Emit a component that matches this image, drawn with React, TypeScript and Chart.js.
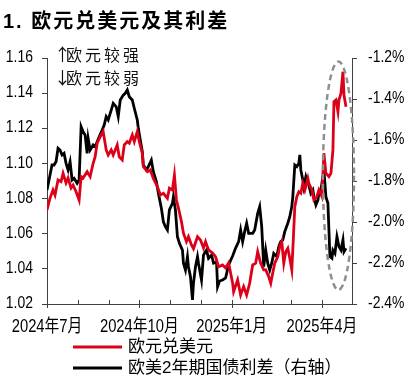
import React, { useEffect, useRef } from 'react';
import { Chart, registerables } from 'chart.js';

Chart.register(...registerables);

// ---------- text ----------
const titleText = '1. 欧元兑美元及其利差';
const noteUp = '欧元较强';
const noteDown = '欧元较弱';
const eurLabel = '欧元兑美元';
const spreadLabel = '欧美2年期国债利差（右轴）';

// ---------- axes ----------
// x values are days since 2024-07-01
const tickDays = [0, 31, 62, 92, 123, 153, 184, 215, 243, 274, 304];
const tickLabels = ['2024年7月', '', '', '2024年10月', '', '', '2025年1月', '', '', '2025年4月', ''];
const leftTicks = [1.02, 1.04, 1.06, 1.08, 1.1, 1.12, 1.14, 1.16];
const rightTicks = [-2.4, -2.2, -2.0, -1.8, -1.6, -1.4, -1.2];

// ---------- EUR/USD (left axis) ----------
const eurDays = [0, 3, 6, 8, 11, 14, 16, 19, 21, 24, 26, 29, 32, 34, 36, 40, 43, 46, 48, 50, 53, 56, 59, 61, 64, 66, 70, 72, 75, 77, 80, 82, 85, 87, 90, 92, 95, 96, 100, 103, 106, 110, 113, 116, 120, 122, 125, 127, 129, 131, 134, 136, 139, 141, 144, 146, 150, 153, 156, 158, 161, 165, 168, 171, 175, 178, 181, 185, 186, 190, 193, 196, 199, 202, 205, 208, 210, 213, 216, 218, 221, 223, 225, 227, 230, 232, 234, 236, 238, 240, 242, 244, 245, 247, 249, 251, 253, 255, 257, 260, 261, 264, 266, 269, 271, 274, 276, 278, 281, 283, 285, 286, 288, 290, 291, 293, 295, 296, 298];
const eurUsd = [1.0735, 1.0803, 1.0849, 1.082, 1.0906, 1.0896, 1.0944, 1.0889, 1.0917, 1.086, 1.0877, 1.0839, 1.0792, 1.0925, 1.0917, 1.0953, 1.0925, 1.1001, 1.1038, 1.1115, 1.1152, 1.1181, 1.1077, 1.1048, 1.1077, 1.1048, 1.1105, 1.1038, 1.102, 1.1105, 1.1124, 1.1115, 1.1162, 1.1124, 1.1181, 1.1124, 1.1058, 1.0982, 1.0953, 1.0963, 1.0915, 1.0868, 1.082, 1.083, 1.0802, 1.0859, 1.0849, 1.0934, 1.0792, 1.0746, 1.0669, 1.0603, 1.0555, 1.0583, 1.0536, 1.0515, 1.0583, 1.0564, 1.0519, 1.0555, 1.0508, 1.049, 1.0469, 1.0412, 1.0422, 1.0405, 1.0434, 1.032, 1.027, 1.0337, 1.0251, 1.0299, 1.0251, 1.0318, 1.0422, 1.0432, 1.0498, 1.0432, 1.0394, 1.0394, 1.0356, 1.0318, 1.0377, 1.0432, 1.0469, 1.0526, 1.0555, 1.0432, 1.0498, 1.0517, 1.046, 1.0394, 1.0508, 1.0754, 1.0811, 1.0839, 1.083, 1.0887, 1.0849, 1.0915, 1.0887, 1.0849, 1.0792, 1.0811, 1.0849, 1.0811, 1.1058, 1.0944, 1.0925, 1.0944, 1.1077, 1.1351, 1.1361, 1.1294, 1.1361, 1.1399, 1.1522, 1.1389, 1.1323];

// ---------- EU-US 2y spread, % (right axis) ----------
const spreadDays = [0, 2, 5, 7, 9, 11, 13, 15, 17, 19, 21, 23, 25, 27, 30, 32, 34, 36, 38, 40, 41, 43, 46, 48, 50, 52, 55, 57, 59, 61, 64, 66, 69, 71, 73, 76, 78, 80, 82, 85, 87, 90, 91, 93, 95, 96, 99, 101, 104, 106, 109, 111, 114, 116, 118, 120, 122, 125, 126, 128, 130, 132, 135, 136, 138, 140, 141, 143, 145, 146, 148, 150, 151, 154, 156, 159, 161, 164, 166, 169, 170, 172, 175, 178, 181, 185, 188, 191, 193, 195, 197, 199, 201, 205, 207, 210, 212, 214, 216, 218, 220, 222, 224, 226, 229, 231, 233, 235, 237, 240, 242, 244, 245, 247, 249, 251, 252, 253, 255, 256, 258, 260, 261, 263, 265, 266, 268, 270, 271, 273, 275, 276, 278, 280, 281, 282, 284, 285, 287, 289, 291, 293, 295, 296, 298];
const spread = [-1.844, -1.795, -1.722, -1.722, -1.706, -1.64, -1.649, -1.673, -1.665, -1.714, -1.746, -1.706, -1.795, -1.787, -1.811, -1.795, -1.535, -1.56, -1.576, -1.665, -1.592, -1.649, -1.624, -1.633, -1.608, -1.584, -1.551, -1.527, -1.486, -1.502, -1.454, -1.421, -1.438, -1.486, -1.405, -1.381, -1.372, -1.356, -1.389, -1.405, -1.445, -1.502, -1.543, -1.6, -1.657, -1.722, -1.746, -1.73, -1.698, -1.755, -1.803, -1.86, -1.933, -1.999, -2.023, -2.039, -1.941, -1.909, -1.877, -1.941, -2.072, -2.104, -2.137, -2.201, -2.234, -2.169, -2.218, -2.267, -2.38, -2.299, -2.218, -2.169, -2.201, -2.283, -2.161, -2.137, -2.177, -2.161, -2.201, -2.195, -2.316, -2.288, -2.283, -2.273, -2.21, -2.166, -2.127, -2.096, -2.039, -2.096, -2.047, -2.006, -2.055, -2.055, -2.039, -1.958, -1.925, -2.023, -2.218, -2.137, -2.201, -2.234, -2.201, -2.153, -2.169, -2.12, -2.096, -2.088, -2.047, -2.006, -1.974, -1.925, -1.877, -1.722, -1.73, -1.714, -1.673, -1.746, -1.795, -1.828, -1.779, -1.811, -1.82, -1.86, -1.844, -1.877, -1.917, -1.893, -1.86, -1.844, -1.779, -1.746, -1.877, -1.909, -2.039, -2.169, -2.177, -2.137, -2.153, -2.072, -2.12, -2.137, -2.088, -2.145, -2.128];

// highlighted window (dashed ellipse), in x days / left-axis units
const hlDayStart = 275;
const hlDayEnd = 306;
const hlTop = 1.158;
const hlBottom = 1.028;

const RED = '#DC0019';
const BLACK = '#000000';
const AXIS = '#404040';
const SANS = "'Liberation Sans', Arial, 'Noto Sans CJK SC', sans-serif";
const CJK = "'Noto Sans CJK SC', 'Liberation Sans', sans-serif";
const NARROW = 0.82; // horizontal squeeze to mimic a narrow sans

function drawNarrow(ctx: any, text: string, x: number, y: number, align: string) {
  ctx.save();
  ctx.translate(x, y);
  ctx.scale(NARROW, 1);
  ctx.textAlign = align;
  ctx.fillText(text, 0, 0);
  ctx.restore();
}

const decorPlugin = {
  id: 'decor',
  afterDraw(chart: any) {
    const { ctx, chartArea, scales } = chart;
    const xs = scales.x;
    const yl = scales.y;
    const yr = scales.y1;
    ctx.save();

    // x tick marks: minor point up, major cross the axis
    ctx.strokeStyle = AXIS;
    ctx.lineWidth = 1;
    tickDays.forEach((d, i) => {
      const px = Math.round(xs.getPixelForValue(d)) + 0.5;
      const major = tickLabels[i] !== '';
      ctx.beginPath();
      ctx.moveTo(px, chartArea.bottom - 4);
      ctx.lineTo(px, chartArea.bottom + (major ? 4 : 0));
      ctx.stroke();
    });

    // tick labels (narrow)
    ctx.fillStyle = '#000';
    ctx.textBaseline = 'middle';
    ctx.font = `18px ${SANS}`;
    tickDays.forEach((d, i) => {
      if (!tickLabels[i]) return;
      drawNarrow(ctx, tickLabels[i], xs.getPixelForValue(d), chartArea.bottom + 23, 'center');
    });
    ctx.font = `17px ${SANS}`;
    leftTicks.forEach((v) => {
      drawNarrow(ctx, v.toFixed(2), chartArea.left - 14, yl.getPixelForValue(v) - 0.5, 'right');
    });
    rightTicks.forEach((v) => {
      drawNarrow(ctx, v.toFixed(1) + '%', chartArea.right + 16, yr.getPixelForValue(v) - 0.5, 'left');
    });

    // dashed ellipse
    const x0 = xs.getPixelForValue(hlDayStart);
    const x1 = xs.getPixelForValue(hlDayEnd);
    const yt = yl.getPixelForValue(hlTop);
    const yb = yl.getPixelForValue(hlBottom);
    ctx.setLineDash([6, 4]);
    ctx.strokeStyle = '#8f8f8f';
    ctx.lineWidth = 2.5;
    ctx.beginPath();
    ctx.ellipse((x0 + x1) / 2, (yt + yb) / 2, (x1 - x0) / 2, (yb - yt) / 2, 0, 0, Math.PI * 2);
    ctx.stroke();
    ctx.setLineDash([]);

    // notes
    ctx.fillStyle = '#111';
    ctx.textBaseline = 'middle';
    ctx.textAlign = 'left';
    const nx = chartArea.left + 8;
    ctx.font = `17px ${CJK}`;
    ctx.fillText('↑', nx - 1, 55);
    ctx.fillText('↓', nx - 1, 78);
    ctx.font = `16px ${CJK}`;
    (ctx as any).letterSpacing = '3px';
    ctx.fillText(noteUp, nx + 11, 55);
    ctx.fillText(noteDown, nx + 11, 78);

    // title
    ctx.fillStyle = '#000';
    ctx.font = `bold 20px ${SANS}`;
    (ctx as any).letterSpacing = '2px';
    ctx.fillText(titleText, 3, 22);
    (ctx as any).letterSpacing = '0px';

    // legend
    const items = [
      { label: eurLabel, color: RED },
      { label: spreadLabel, color: BLACK },
    ];
    ctx.font = `17px ${SANS}`;
    items.forEach((it, i) => {
      const y = 347 + i * 21;
      ctx.strokeStyle = it.color;
      ctx.lineWidth = 3;
      ctx.beginPath();
      ctx.moveTo(73, y);
      ctx.lineTo(122, y);
      ctx.stroke();
      ctx.fillStyle = '#000';
      ctx.fillText(it.label, 128, y);
    });

    ctx.restore();
  },
};

export default function App() {
  const ref = useRef<HTMLCanvasElement | null>(null);

  useEffect(() => {
    if (!ref.current) return;
    const chart = new Chart(ref.current, {
      type: 'line',
      data: {
        datasets: [
          {
            label: eurLabel,
            data: eurDays.map((d, i) => ({ x: d, y: eurUsd[i] })),
            borderColor: RED,
            borderWidth: 2.8,
            pointRadius: 0,
            tension: 0,
            yAxisID: 'y',
          },
          {
            label: spreadLabel,
            data: spreadDays.map((d, i) => ({ x: d, y: spread[i] })),
            borderColor: BLACK,
            borderWidth: 2.8,
            pointRadius: 0,
            tension: 0,
            yAxisID: 'y1',
          },
        ],
      },
      options: {
        animation: false,
        responsive: false,
        layout: { padding: { top: 58, bottom: 45, left: 0, right: 0 } },
        plugins: {
          legend: { display: false },
          tooltip: { enabled: false },
          title: { display: false },
        },
        scales: {
          x: {
            type: 'linear',
            min: 0,
            max: 304,
            afterBuildTicks: (s: any) => {
              s.ticks = tickDays.map((v) => ({ value: v }));
            },
            afterFit: (s: any) => {
              s.height = 36;
            },
            ticks: { display: false },
            grid: { drawOnChartArea: false, drawTicks: false },
            border: { display: true, color: AXIS, width: 1 },
          },
          y: {
            position: 'left',
            min: 1.02,
            max: 1.16,
            afterBuildTicks: (s: any) => {
              s.ticks = leftTicks.map((v) => ({ value: v }));
            },
            afterFit: (s: any) => {
              s.width = 47;
            },
            ticks: { display: false },
            grid: { drawOnChartArea: false, drawTicks: true, tickLength: 5, color: AXIS, tickColor: AXIS },
            border: { display: true, color: AXIS, width: 1 },
          },
          y1: {
            position: 'right',
            min: -2.4,
            max: -1.2,
            afterBuildTicks: (s: any) => {
              s.ticks = rightTicks.map((v) => ({ value: v }));
            },
            afterFit: (s: any) => {
              s.width = 56;
            },
            ticks: { display: false },
            grid: { drawOnChartArea: false, drawTicks: true, tickLength: 5, color: AXIS, tickColor: AXIS },
            border: { display: true, color: AXIS, width: 1 },
          },
        },
      },
      plugins: [decorPlugin],
    });
    return () => chart.destroy();
  }, []);

  return (
    <div style={{ position: 'fixed', left: 0, top: 0, width: 408, height: 385, background: '#fff' }}>
      <canvas ref={ref} width={408} height={385} style={{ display: 'block' }} />
    </div>
  );
}
